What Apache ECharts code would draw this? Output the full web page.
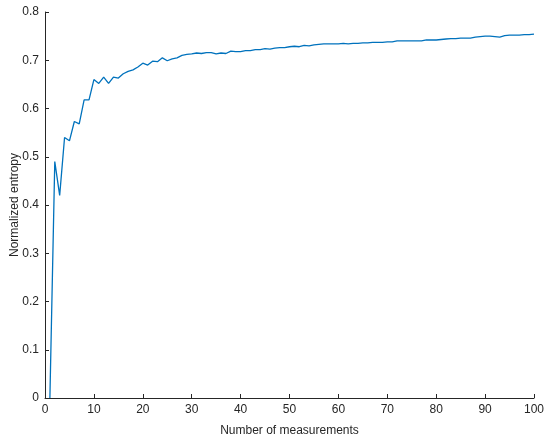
<!DOCTYPE html>
<html>
<head>
<meta charset="utf-8">
<script src="https://cdn.jsdelivr.net/npm/echarts@6/dist/echarts.min.js"></script>
<style>
  html, body { margin: 0; padding: 0; background: #fff; }
  #chart { width: 550px; height: 441px; }
</style>
</head>
<body>
<div id="chart"></div>
<script>
// measurements 1..100
var entropy = [
  0, 0.49, 0.42, 0.54, 0.533, 0.573, 0.568, 0.618, 0.618, 0.66,
  0.652, 0.665, 0.652, 0.665, 0.663, 0.672, 0.677, 0.68, 0.686, 0.694,
  0.69, 0.698, 0.697, 0.705, 0.699, 0.703, 0.705, 0.71, 0.712, 0.713,
  0.715, 0.714, 0.716, 0.716, 0.713, 0.715, 0.714, 0.719, 0.718, 0.718,
  0.72, 0.72, 0.722, 0.722, 0.724, 0.723, 0.725, 0.726, 0.726, 0.728,
  0.729, 0.728, 0.731, 0.73, 0.732, 0.733, 0.734, 0.734, 0.734, 0.734,
  0.735, 0.734, 0.735, 0.735, 0.736, 0.736, 0.737, 0.737, 0.737, 0.738,
  0.738, 0.74, 0.74, 0.74, 0.74, 0.74, 0.74, 0.742, 0.742, 0.742,
  0.743, 0.744, 0.745, 0.745, 0.746, 0.746, 0.746, 0.748, 0.749, 0.75,
  0.75, 0.749, 0.748, 0.751, 0.752, 0.752, 0.752, 0.753, 0.753, 0.754
];
var xTicks = [0, 10, 20, 30, 40, 50, 60, 70, 80, 90, 100];
var yTicks = [0, 0.1, 0.2, 0.3, 0.4, 0.5, 0.6, 0.7, 0.8];

var points = entropy.map(function (v, i) { return [i + 1, v]; });

var axisCol = '#262626';
var font = 'Liberation Sans, Arial, sans-serif';

var chart = echarts.init(document.getElementById('chart'));
chart.setOption({
  animation: false,
  grid: { left: 45, right: 16, top: 12, bottom: 43, containLabel: false, outerBoundsMode: 'none' },
  xAxis: {
    type: 'value',
    min: xTicks[0], max: xTicks[xTicks.length - 1], interval: 10,
    name: 'Number of measurements',
    nameLocation: 'middle', nameGap: 27, nameMoveOverlap: false,
    nameTextStyle: { color: axisCol, fontSize: 12, fontFamily: font },
    axisLine: { lineStyle: { color: axisCol, width: 1 } },
    axisTick: { inside: true, length: 4, lineStyle: { color: axisCol } },
    axisLabel: { color: axisCol, fontSize: 12, fontFamily: font, margin: 6 },
    splitLine: { show: false }
  },
  yAxis: {
    type: 'value',
    min: yTicks[0], max: yTicks[yTicks.length - 1], interval: 0.1,
    name: 'Normalized entropy',
    nameLocation: 'middle', nameGap: 24, nameMoveOverlap: false,
    nameTextStyle: { color: axisCol, fontSize: 12, fontFamily: font },
    axisLine: { show: true, lineStyle: { color: axisCol, width: 1 } },
    axisTick: { show: true, inside: true, length: 4, lineStyle: { color: axisCol } },
    axisLabel: {
      color: axisCol, fontSize: 12, fontFamily: font, margin: 6,
      formatter: function (v) { return String(Math.round(v * 10) / 10); }
    },
    splitLine: { show: false }
  },
  series: [{
    type: 'line',
    data: points,
    showSymbol: false,
    lineStyle: { color: '#0072BD', width: 1.3 },
    itemStyle: { color: '#0072BD' }
  }]
});
</script>
</body>
</html>
